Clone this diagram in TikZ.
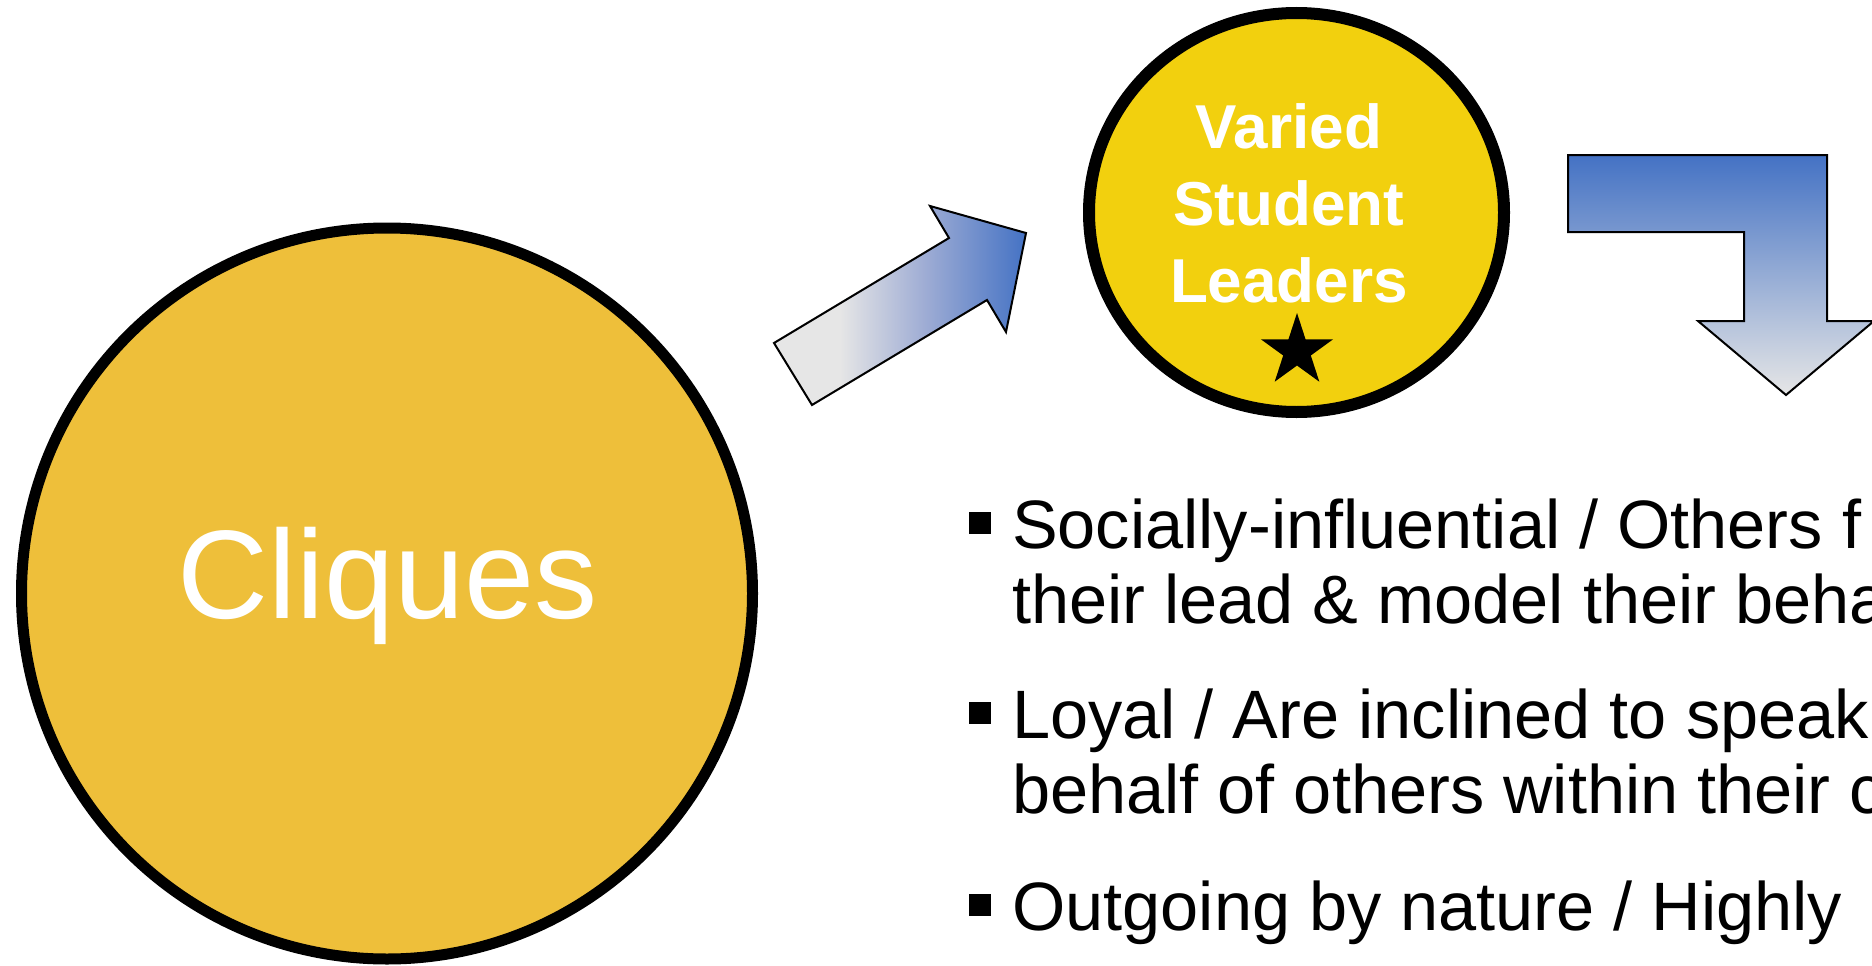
\documentclass[tikz,border=0pt]{standalone}
\usepackage{fontspec}
\setmainfont{Liberation Sans}
\usetikzlibrary{shapes.geometric}
\definecolor{cliquegold}{RGB}{238,191,58}
\definecolor{leadergold}{RGB}{242,208,14}
\definecolor{arrowblue}{RGB}{68,114,196}
\definecolor{arrowgray}{RGB}{230,230,230}
\definecolor{arrowmid}{RGB}{158,172,212}
\pgfdeclarehorizontalshading{diagshade}{100bp}{color(0bp)=(arrowgray); color(25bp)=(arrowgray); color(38bp)=(arrowgray); color(55bp)=(arrowmid); color(75bp)=(arrowblue); color(100bp)=(arrowblue)}
\begin{document}
\begin{tikzpicture}[x=1pt,y=-1pt,
  blockarrow/.style={draw=black, line width=2pt, line join=miter},
  bullettext/.style={anchor=base west, inner sep=0pt, font=\fontsize{68.5}{75}\selectfont},
  bulletmark/.style={fill=black, minimum size=22pt, inner sep=0pt},
  leadertext/.style={anchor=base, inner sep=0pt, text=white, font=\fontsize{62}{77}\selectfont\bfseries}]
\useasboundingbox (0,0) rectangle (1872,966);
\clip (0,0) rectangle (1872,966);
% big circle
\node[circle, draw=black, line width=11pt, fill=cliquegold, minimum size=731pt, inner sep=0pt] (cliques) at (387,593.5) {};
\node[anchor=base, inner sep=0pt, text=white, font=\fontsize{126}{150}\selectfont] (cliqueslabel) at (388,618) {Cliques};
% small ellipse
\node[ellipse, draw=black, line width=12pt, fill=leadergold, minimum width=415pt, minimum height=399pt, inner sep=0pt] (leaders) at (1296.5,212.5) {};
\node[leadertext] (lineA) at (1289,148) {Varied};
\node[leadertext] (lineB) at (1289,225) {Student};
\node[leadertext] (lineC) at (1289,302) {Leaders};
\node[star, star points=5, star point ratio=2.618, fill=black, minimum size=76pt, inner sep=0pt] (star) at (1297,351) {};
% diagonal block arrow
\path[blockarrow, shading=diagshade]
  (774,343) -- (812,405) -- (987,300) -- (1006,332) -- (1026,233) -- (930,206) -- (949,238) -- cycle;
% bent block arrow
\path[blockarrow, top color=arrowblue, bottom color=arrowgray]
  (1568,155) -- (1827,155) -- (1827,321) -- (1874,321) -- (1786,395) -- (1698,321) -- (1744,321) -- (1744,232) -- (1568,232) -- cycle;
% bullets
\node[bulletmark] (b1) at (980,522.5) {};
\node[bulletmark] (b2) at (980,712.5) {};
\node[bulletmark] (b3) at (980,905) {};
\node[bullettext] (t1) at (1012,548) {Socially-influential / Others f};
\node[bullettext] (t2) at (1012,623) {their lead \& model their beha};
\node[bullettext] (t3) at (1012,738) {Loyal / Are inclined to speak};
\node[bullettext] (t4) at (1012,813) {behalf of others within their c};
\node[bullettext] (t5) at (1012,930) {Outgoing by nature / Highly};
\end{tikzpicture}
\end{document}
